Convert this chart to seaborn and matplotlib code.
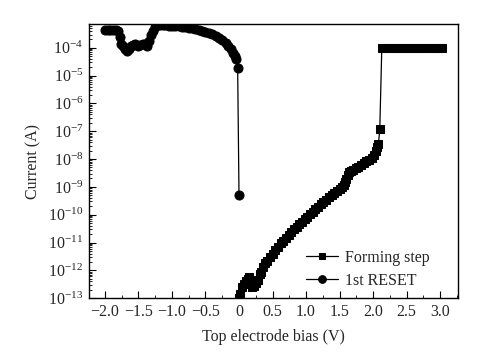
import numpy as np
import pandas as pd
import seaborn as sns
import matplotlib.pyplot as plt
from matplotlib.ticker import FixedLocator, LogLocator, NullFormatter

# 绘图样式
sns.set_style("ticks")
plt.rcParams['font.family'] = ['Liberation Serif', 'DejaVu Serif']
plt.rcParams['mathtext.fontset'] = 'stix'
plt.rcParams['xtick.direction'] = 'in'
plt.rcParams['ytick.direction'] = 'in'

# Forming step: 偏压 (V) 和 log10(电流/A)
forming_v = [0.00, 0.02, 0.04, 0.07, 0.10, 0.13, 0.15, 0.17, 0.19, 0.22,
             0.25, 0.28, 0.31, 0.33, 0.36, 0.39, 0.42, 0.46, 0.50, 0.54,
             0.58, 0.62, 0.66, 0.70, 0.74, 0.78, 0.82, 0.86, 0.90, 0.94,
             0.98, 1.02, 1.06, 1.10, 1.14, 1.18, 1.22, 1.26, 1.30, 1.34,
             1.38, 1.42, 1.46, 1.50, 1.54, 1.56, 1.58, 1.60, 1.62, 1.64,
             1.67, 1.70, 1.74, 1.78, 1.82, 1.86, 1.90, 1.94, 1.98, 2.01,
             2.04, 2.06, 2.08, 2.10, 2.13, 2.18, 2.23, 2.28, 2.33, 2.38,
             2.43, 2.48, 2.53, 2.58, 2.63, 2.68, 2.73, 2.78, 2.83, 2.88,
             2.93, 2.98, 3.03]
forming_log_i = [-13.0, -12.85, -12.6, -12.5, -12.4, -12.3, -12.25, -12.45, -12.6, -12.55,
                 -12.45, -12.35, -12.15, -12.05, -11.88, -11.75, -11.65, -11.52, -11.4, -11.28,
                 -11.15, -11.03, -10.93, -10.83, -10.73, -10.63, -10.53, -10.44, -10.35, -10.26,
                 -10.17, -10.08, -9.99, -9.9, -9.81, -9.72, -9.63, -9.55, -9.46, -9.38,
                 -9.30, -9.22, -9.15, -9.08, -9.02, -8.95, -8.82, -8.70, -8.58, -8.48,
                 -8.42, -8.38, -8.33, -8.28, -8.22, -8.15, -8.08, -8.02, -7.95, -7.85,
                 -7.7, -7.55, -7.45, -6.92, -4.0, -4.0, -4.0, -4.0, -4.0, -4.0,
                 -4.0, -4.0, -4.0, -4.0, -4.0, -4.0, -4.0, -4.0, -4.0, -4.0,
                 -4.0, -4.0, -4.0]

# 1st RESET
reset_v = [-2.00, -1.96, -1.92, -1.88, -1.84, -1.80, -1.78, -1.76, -1.73, -1.70,
           -1.67, -1.64, -1.61, -1.58, -1.55, -1.51, -1.47, -1.43, -1.40, -1.37,
           -1.34, -1.31, -1.28, -1.25, -1.22, -1.18, -1.14, -1.10, -1.05, -1.00,
           -0.95, -0.90, -0.85, -0.80, -0.75, -0.70, -0.65, -0.60, -0.55, -0.50,
           -0.45, -0.40, -0.35, -0.30, -0.25, -0.20, -0.16, -0.12, -0.09, -0.06,
           -0.04, -0.02, 0.00]
reset_log_i = [-3.35, -3.35, -3.37, -3.35, -3.37, -3.4, -3.6, -3.85, -3.95, -4.05,
               -4.12, -4.05, -3.95, -3.9, -3.88, -3.92, -3.9, -3.85, -3.88, -3.95,
               -3.75, -3.55, -3.4, -3.25, -3.17, -3.17, -3.18, -3.19, -3.2, -3.21,
               -3.22, -3.23, -3.25, -3.26, -3.28, -3.3, -3.33, -3.36, -3.39, -3.43,
               -3.47, -3.52, -3.58, -3.65, -3.73, -3.83, -3.93, -4.05, -4.18, -4.3,
               -4.42, -4.72, -9.28]

xtick_vals = [-2.0, -1.5, -1.0, -0.5, 0.0, 0.5, 1.0, 1.5, 2.0, 2.5, 3.0]
xtick_labels = ['\u22122.0', '\u22121.5', '\u22121.0', '\u22120.5', '0',
                '0.5', '1.0', '1.5', '2.0', '2.5', '3.0']

forming = pd.DataFrame({'V': forming_v, 'I': 10.0 ** np.array(forming_log_i)})
reset = pd.DataFrame({'V': reset_v, 'I': 10.0 ** np.array(reset_log_i)})

fs = 11.5

fig, ax = plt.subplots(figsize=(4.88, 3.52), dpi=100)
fig.subplots_adjust(left=0.182, right=0.939, top=0.932, bottom=0.153)

sns.lineplot(data=forming, x='V', y='I', sort=False, estimator=None, ax=ax,
             color='black', linewidth=0.9, marker='s', markersize=5.5,
             markeredgecolor='black', label='Forming step')
sns.lineplot(data=reset, x='V', y='I', sort=False, estimator=None, ax=ax,
             color='black', linewidth=0.9, marker='o', markersize=6.5,
             markeredgecolor='black', label='1st RESET')

ax.set_yscale('log')
ax.set_xlim(-2.24, 3.27)
ax.set_ylim(1e-13, 7.2e-4)

ax.xaxis.set_major_locator(FixedLocator(xtick_vals))
ax.set_xticklabels(xtick_labels)
ax.xaxis.set_minor_locator(FixedLocator([v + 0.25 for v in xtick_vals]))
ax.yaxis.set_major_locator(LogLocator(base=10, numticks=20))
ax.yaxis.set_minor_locator(LogLocator(base=10, subs=np.arange(2, 10), numticks=20))
ax.yaxis.set_minor_formatter(NullFormatter())

ax.tick_params(axis='both', which='major', length=5, width=0.8, labelsize=fs,
               top=False, right=False, color='black', pad=4)
ax.tick_params(axis='both', which='minor', length=2.5, width=0.6,
               top=False, right=False, color='black')

for sp in ax.spines.values():
    sp.set_color('black')
    sp.set_linewidth(1.0)

ax.set_xlabel('Top electrode bias (V)', fontsize=fs, labelpad=7)
ax.set_ylabel('Current (A)', fontsize=fs, labelpad=5)

ax.legend(loc='lower right', frameon=False, fontsize=fs, handlelength=2.0,
          handletextpad=0.45, labelspacing=0.45, borderaxespad=0.0,
          bbox_to_anchor=(0.94, 0.01), markerscale=0.85)

plt.savefig('out.png', dpi=100)
